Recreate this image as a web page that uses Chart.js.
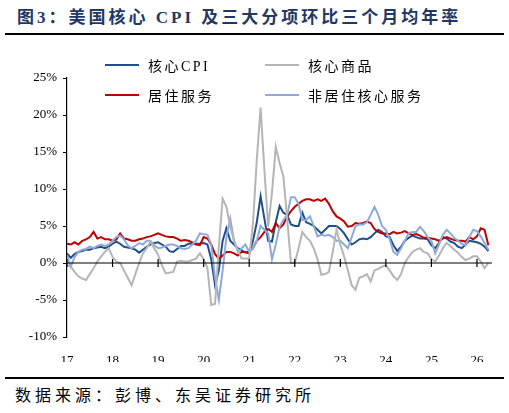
<!DOCTYPE html>
<html><head><meta charset="utf-8">
<script src="https://cdn.jsdelivr.net/npm/chart.js@4"></script>
<style>
body{margin:0;width:509px;height:413px;background:#fff;position:relative;overflow:hidden;font-family:"Liberation Serif","Noto Sans CJK SC",serif}
#title{position:absolute;left:17px;top:3px;font:bold 17px "Liberation Serif","Noto Sans CJK SC";color:#1F3864;letter-spacing:3px;white-space:nowrap}
.rule{position:absolute;left:5px;width:499px;height:2px;background:#000}
#foot{position:absolute;left:15px;top:382px;font:16px "Noto Sans CJK SC";color:#000;letter-spacing:4px}
.lg{position:absolute;font:14px "Liberation Serif","Noto Sans CJK SC";color:#000;letter-spacing:2.5px;display:flex;align-items:center}
.lg i{display:inline-block;width:34px;height:2px;margin-right:9px}
#c{position:absolute;left:0;top:0}
</style></head><body>
<div id="title">图3：美国核心 CPI 及三大分项环比三个月均年率</div>
<div class="rule" style="top:33px"></div>
<div class="rule" style="top:377px"></div>
<div id="foot">数据来源：彭博、东吴证券研究所</div>
<canvas id="c" width="509" height="413"></canvas>
<div id="legend"></div>
<script>
const startYear = 2017;
const seriesNames = ['核心CPI','核心商品','居住服务','非居住核心服务'];
const coreCPI = [1.3,0.7,1.2,1.5,1.6,1.8,1.8,2.0,2.1,2.2,2.0,2.2,
2.6,2.9,2.6,2.2,2.1,2.0,1.8,1.4,1.8,2.2,2.5,2.7,
2.8,2.5,2.2,1.6,1.5,1.9,2.3,2.3,2.6,2.6,2.6,2.6,
2.7,2.5,0.5,-3.0,-1.0,3.0,4.7,3.0,2.5,2.0,1.7,1.4,
1.3,3.0,5.5,9.0,6.0,3.0,2.9,5.5,7.7,6.8,6.5,5.2,
5.0,5.0,6.8,5.5,5.3,5.0,4.5,4.0,4.5,5.0,5.0,5.0,
4.6,4.0,3.2,2.5,2.8,3.2,3.3,3.2,3.5,4.0,4.5,4.2,
3.6,3.5,2.4,1.6,2.2,3.0,3.4,3.7,3.5,3.3,3.3,3.2,
2.4,2.0,2.7,3.5,3.3,2.9,2.7,2.2,2.0,2.5,3.0,2.9,
2.8,2.6,2.2,1.6];
const coreGoods = [-0.3,-0.5,-1.2,-1.8,-2.1,-2.3,-1.5,-0.7,0.2,0.9,1.5,2.0,
0.8,0.2,0,-1.0,-2.0,-3.0,-1.5,0,1.3,2.0,2.9,2.0,
1.1,-0.3,-1.4,-1.3,-1.2,0.2,0.3,0.2,0.2,0.4,0.6,1.3,
0.5,-0.7,-5.7,-5.5,2.2,8.7,7.6,4.9,3.0,1.8,0.6,0.6,
0.6,5.4,14.0,21.0,12.6,4.9,9.5,15.7,13.5,11.7,6.0,0.0,
0,2.0,4.2,3.5,3.0,2.0,0.5,-1.6,-1.5,-1.2,1.5,4.5,
2.5,0.9,-1.0,-3.0,-3.6,-2.0,-1.8,-1.5,-2.5,-1.0,-0.8,-0.5,
-0.3,-1.0,-1.8,-2.3,-1.5,0,0.8,1.5,1.8,2.0,1.5,1.3,
0.5,0.2,1.0,2.0,2.7,2.3,1.8,1.4,0.8,0.4,0.6,0.9,
0.9,0.2,-0.7,0.0];
const shelter = [2.6,2.5,2.8,2.5,3.0,3.2,3.5,4.2,3.3,3.5,3.2,3.2,
3.0,3.2,4.0,3.3,3.2,3.0,3.0,3.2,3.3,3.5,3.6,3.8,
4.0,3.8,3.6,3.5,3.5,3.3,3.0,3.1,3.0,2.8,2.5,2.4,
3.5,3.3,2.5,1.2,0.6,1.0,1.5,1.5,1.3,1.0,1.5,1.5,
1.5,2.0,3.0,3.5,4.2,4.6,4.2,5.4,4.7,5.2,6.3,7.0,
7.6,8.0,8.4,8.6,8.6,8.4,8.6,8.4,8.7,8.0,7.0,6.3,
6.0,5.6,4.9,5.0,5.4,5.3,5.4,5.6,5.4,4.6,4.2,4.0,
4.0,3.9,4.2,4.0,4.1,4.3,4.0,3.8,3.9,3.7,3.4,3.4,
3.3,3.2,3.0,3.3,3.5,3.3,3.1,3.0,3.0,2.9,3.5,3.2,
3.6,4.7,4.5,2.4];
const supercore = [1.0,-0.5,0.8,1.5,1.8,1.9,2.2,2.0,2.3,2.5,2.3,2.5,
3.0,3.5,3.7,3.2,2.4,2.0,2.3,2.7,2.5,3.0,3.0,2.4,
2.0,2.1,2.3,2.5,2.5,2.3,2.0,1.9,2.0,2.5,3.0,4.0,
3.9,3.8,2.5,-2.0,-5.0,-1.0,3.5,6.0,3.0,1.5,2.0,2.5,
1.5,2.0,3.0,5.0,4.5,4.0,0.5,2.5,4.9,5.8,6.5,8.9,
8.9,8.0,5.8,5.8,6.3,5.0,3.6,3.8,3.7,3.8,3.5,3.0,
3.0,2.5,2.0,3.5,5.0,5.2,5.2,5.5,6.5,7.6,6.5,5.0,
4.5,3.2,1.5,1.1,2.0,3.0,4.0,4.2,4.2,4.9,4.3,3.5,
3.0,1.3,2.5,3.8,4.5,4.0,3.4,3.0,2.6,2.4,3.5,4.5,
4.3,3.6,2.7,1.8];
const yTicks = [-10,-5,0,5,10,15,20,25];
const xTickYears = [2017,2018,2019,2020,2021,2022,2023,2024,2025,2026];
const colors = ['#1F4E8C','#B5B5B5','#C00000','#8EAADB'];
const allSeries = [coreCPI, coreGoods, shelter, supercore];
const order = [1,3,2,0];

const toPts = arr => arr.map((v,i)=>({x:startYear+i/12, y:v}));

const lg = document.getElementById('legend');
const pos = [[105,55],[265,55],[105,85],[265,85]];
[0,1,2,3].forEach((k,j)=>{
  const d=document.createElement('div');d.className='lg';
  d.style.left=pos[j][0]+'px';d.style.top=pos[j][1]+'px';
  d.innerHTML='<i style="background:'+colors[k]+'"></i>'+seriesNames[k];
  lg.appendChild(d);
});

const zeroAxis = {id:'zeroAxis', afterDatasetsDraw(ch){
  const {ctx, scales:{x,y}, chartArea:a} = ch;
  const y0 = y.getPixelForValue(0);
  ctx.save(); ctx.strokeStyle='#000'; ctx.lineWidth=1.2;
  ctx.beginPath(); ctx.moveTo(a.left,y0); ctx.lineTo(a.right,y0); ctx.stroke();
  xTickYears.forEach(t=>{const px=x.getPixelForValue(t); ctx.beginPath(); ctx.moveTo(px,y0-4); ctx.lineTo(px,y0+4); ctx.stroke();});
  ctx.restore();
}};

new Chart(document.getElementById('c'),{
  type:'line',
  data:{datasets: order.map(k=>({label:seriesNames[k], data:toPts(allSeries[k]), borderColor:colors[k], borderWidth:2, pointRadius:0, tension:0}))},
  options:{
    responsive:false, animation:false, events:[],
    layout:{padding:{left:0,top:78,right:17,bottom:51}},
    plugins:{legend:{display:false},tooltip:{enabled:false}},
    scales:{
      x:{type:'linear', min:2017, max:2026.33,
        afterBuildTicks(s){s.ticks=xTickYears.map(v=>({value:v}));},
        afterFit(s){s.height=25;},
        grid:{display:false}, border:{display:false},
        ticks:{padding:8, color:'#000', font:{family:'Liberation Serif',size:13}, callback:v=>String(v).slice(2)}},
      y:{min:-10,max:25,
        afterBuildTicks(s){s.ticks=yTicks.map(v=>({value:v}));},
        afterFit(s){s.width=67;},
        grid:{drawOnChartArea:false, drawTicks:true, tickLength:4, color:'#000'},
        border:{display:true,color:'#000',width:1.2},
        ticks:{padding:6,color:'#000',font:{family:'Liberation Serif',size:13}, callback:v=>v+'%'}}
    }
  },
  plugins:[zeroAxis]
});
</script>
</body></html>
